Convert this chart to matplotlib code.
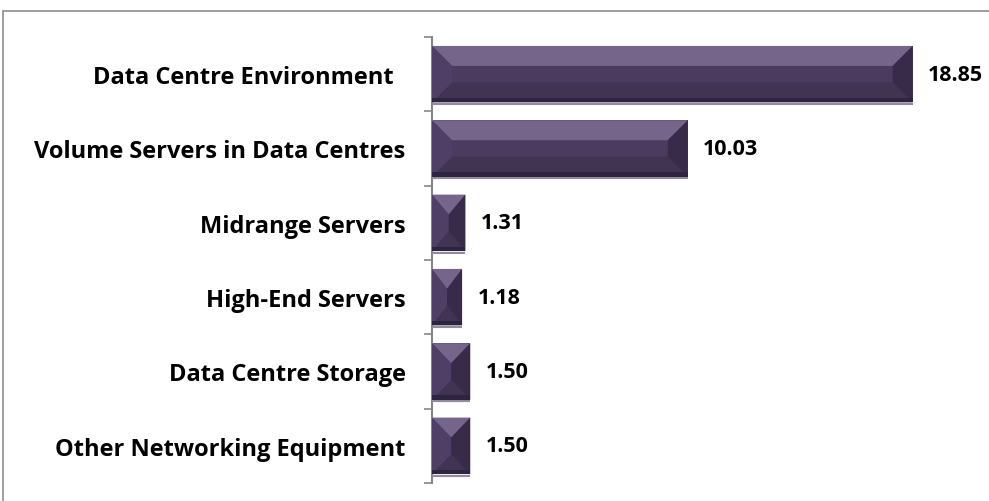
"""
Data centre energy bar chart.
"""
import matplotlib
matplotlib.use('Agg')
import matplotlib.pyplot as plt
from matplotlib.patches import Polygon, Rectangle
import numpy as np

categories = ['Data Centre Environment  ', 'Volume Servers in Data Centres',
              'Midrange Servers', 'High-End Servers', 'Data Centre Storage',
              'Other Networking Equipment']
values = [18.85, 10.03, 1.31, 1.18, 1.50, 1.50]
value_labels = ['18.85', '10.03', '1.31', '1.18', '1.50', '1.50']

plt.rcParams['font.family'] = ['Open Sans', 'DejaVu Sans']

W, H, DPI = 989, 502, 100
fig = plt.figure(figsize=(W / DPI, H / DPI), dpi=DPI)
ax = fig.add_axes([432 / W, 1 - 484 / H, 510 / W, 446 / H])

y = np.arange(len(values))
bar_h = 0.76
ax.set_xlim(0, 20)
ax.set_ylim(len(values) - 0.5, -0.5)

# pixels per data unit, used to size the bevel
px_x = 510 / 20.0
px_y = 446 / len(values)
bev = 20  # bevel size in pixels

base = '#4a3b5f'
top_c = '#75658a'
left_c = '#4f3f67'
right_c = '#382b49'
bot_c = '#413352'

for yi, v in zip(y, values):
    x0, x1 = 0, v
    y0, y1 = yi + bar_h / 2, yi - bar_h / 2  # y0 bottom (inverted axis)
    bx = min(bev / px_x, v / 2)
    by = min(bev / px_y, bar_h / 2)
    ax.barh(yi, v, height=bar_h, color=base, edgecolor='none', zorder=2)
    polys = [
        ([(x0, y1), (x1, y1), (x1 - bx, y1 + by), (x0 + bx, y1 + by)], top_c),
        ([(x0, y0), (x1, y0), (x1 - bx, y0 - by), (x0 + bx, y0 - by)], bot_c),
        ([(x0, y0), (x0, y1), (x0 + bx, y1 + by), (x0 + bx, y0 - by)], left_c),
        ([(x1, y0), (x1, y1), (x1 - bx, y1 + by), (x1 - bx, y0 - by)], right_c),
    ]
    for pts, c in polys:
        ax.add_patch(Polygon(pts, closed=True, facecolor=c, edgecolor='none', zorder=3))
    # thin dark strip at the bottom, light line under it
    ax.add_patch(Rectangle((x0, y0 - 0.06), v, 0.06, facecolor='#2e2340',
                           edgecolor='none', zorder=4))
    ax.plot([x0, x1], [y0 + 0.02, y0 + 0.02], color='#948aa0', lw=1.5, zorder=3,
            solid_capstyle='butt')

for yi, v, lab in zip(y, values, value_labels):
    ax.annotate(lab, (v, yi), xytext=(11, 0), textcoords='offset points',
                va='center', ha='left', fontsize=15.5, fontweight='bold',
                annotation_clip=False)

ax.set_yticks(y)
ax.set_yticklabels(categories, fontsize=17, fontweight='bold')
ax.tick_params(axis='y', which='major', length=0, pad=19)
ax.set_yticks(np.arange(len(values) + 1) - 0.5, minor=True)
ax.tick_params(axis='y', which='minor', length=6, width=1.2, color='#868686',
               direction='out')
ax.set_xticks([])

for s in ['top', 'right', 'bottom']:
    ax.spines[s].set_visible(False)
ax.spines['left'].set_color('#868686')
ax.spines['left'].set_linewidth(1.5)

# outer chart border
fig.patches.append(Rectangle((3 / W, -0.05), 1.0, 1 - 12 / H + 0.05,
                             transform=fig.transFigure, fill=False,
                             edgecolor='#8c8c8c', linewidth=1.2))

fig.savefig('out.png', dpi=DPI)
